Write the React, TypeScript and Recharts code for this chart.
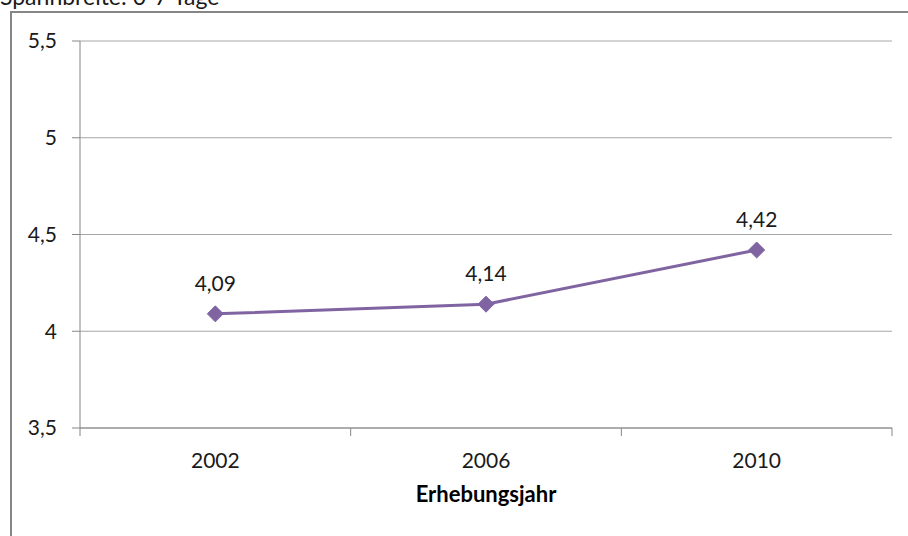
import React from 'react';
import { LineChart, Line, XAxis, YAxis, CartesianGrid, LabelList } from 'recharts';

const years = ['2002', '2006', '2010'];
const values = [4.09, 4.14, 4.42];
const yTicks = [3.5, 4, 4.5, 5, 5.5];
const xTicks = [0, 0.5, 1, 1.5, 2, 2.5, 3];
const title = 'Spannbreite: 0-7 Tage';
const xTitle = 'Erhebungsjahr';

const data = years.map((y, i) => ({ pos: i + 0.5, year: y, value: values[i] }));

const FONT = 'Lato, "Open Sans", sans-serif';
const AXIS = '#868686';
const TEXT = '#1a1a1a';
const PURPLE = '#8064A2';

const fmt = (v: number) => String(v).replace('.', ',');

const XTick = (props: any) => {
  const { x, y, payload } = props;
  const v = payload.value as number;
  if (Number.isInteger(v)) {
    return <line x1={x} x2={x} y1={y} y2={y + 8} stroke={AXIS} strokeWidth={1} />;
  }
  const idx = Math.floor(v);
  return (
    <text x={x} y={y + 40} textAnchor="middle" fill={TEXT} fontSize={21} fontFamily={FONT}>
      {years[idx]}
    </text>
  );
};

const Diamond = (props: any) => {
  const { cx, cy } = props;
  if (cx == null || cy == null) return null;
  const r = 8;
  return <path d={`M${cx},${cy - r}L${cx + r},${cy}L${cx},${cy + r}L${cx - r},${cy}Z`} fill={PURPLE} stroke={PURPLE} />;
};

export default function App() {
  return (
    <div style={{ position: 'absolute', left: 0, top: 0, width: 908, height: 536, overflow: 'hidden', background: '#fff' }}>
      <div
        style={{
          position: 'absolute', left: 0, top: -15, fontFamily: FONT, fontSize: 23,
          lineHeight: '23px', color: TEXT, whiteSpace: 'nowrap',
        }}
      >
        {title}
      </div>
      <div
        style={{
          position: 'absolute', left: 10, top: 11, width: 1000, height: 1000,
          border: `2px solid ${AXIS}`, boxSizing: 'border-box',
        }}
      />
      <div style={{ position: 'absolute', left: 0, top: 0 }}>
        <LineChart width={908} height={536} data={data} margin={{ top: 41, right: 16, left: 10, bottom: 28 }}>
          <CartesianGrid horizontal vertical={false} stroke="#a6a6a6" strokeWidth={1} />
          <XAxis
            dataKey="pos"
            type="number"
            domain={[0, 3]}
            ticks={xTicks}
            interval={0}
            height={80}
            tickLine={false}
            tickSize={0}
            tickMargin={0}
            axisLine={{ stroke: AXIS }}
            tick={<XTick />}
            label={{ value: xTitle, position: 'insideBottom', offset: 6, fill: '#000', fontSize: 22, fontWeight: 'bold', fontFamily: FONT }}
          />
          <YAxis
            type="number"
            domain={[3.5, 5.5]}
            ticks={yTicks}
            interval={0}
            width={70}
            tickSize={8}
            tickMargin={15}
            tickLine={{ stroke: AXIS }}
            axisLine={{ stroke: AXIS }}
            tickFormatter={fmt}
            tick={{ fill: TEXT, fontSize: 21, fontFamily: FONT }}
          />
          <Line
            dataKey="value"
            stroke={PURPLE}
            strokeWidth={3}
            dot={<Diamond />}
            activeDot={false}
            isAnimationActive={false}
          >
            <LabelList dataKey="value" position="top" offset={23} formatter={(v: any) => fmt(v)} fill={TEXT} fontSize={21} fontFamily={FONT} />
          </Line>
        </LineChart>
      </div>
    </div>
  );
}
